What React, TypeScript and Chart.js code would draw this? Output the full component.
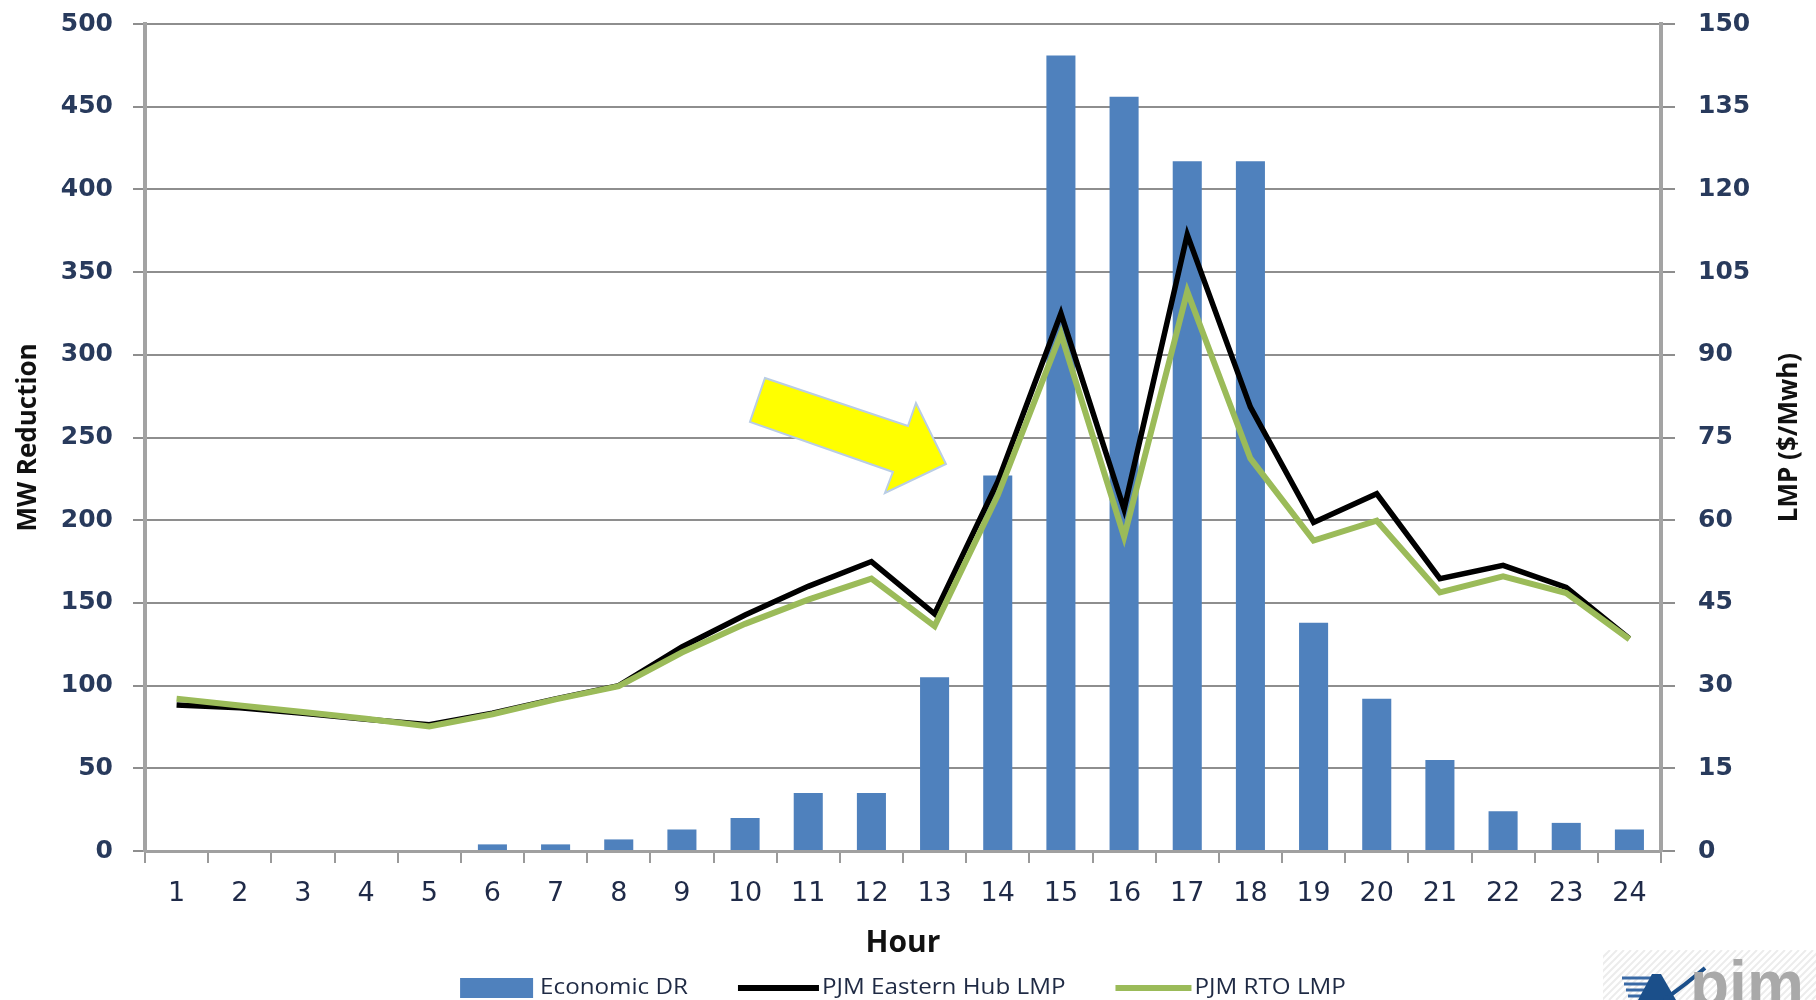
import React, { useEffect, useRef } from 'react';
import { Chart, registerables } from 'chart.js';

Chart.register(...registerables);

// Hour-of-day categories
const HOURS = ['1', '2', '3', '4', '5', '6', '7', '8', '9', '10', '11', '12',
  '13', '14', '15', '16', '17', '18', '19', '20', '21', '22', '23', '24'];

// Economic demand response, MW reduction per hour
const ECONOMIC_DR = [0, 0, 0, 0, 0, 4, 4, 7, 13, 20, 35, 35,
  105, 227, 481, 456, 417, 417, 138, 92, 55, 24, 17, 13];

// Locational marginal prices, $/MWh
const EASTERN_HUB_LMP = [26.5, 26, 25, 23.9, 22.9, 25, 27.6, 30, 37, 42.8, 48, 52.5,
  43, 67, 97.5, 62, 111.8, 80.5, 59.6, 64.8, 49.4, 51.8, 47.8, 38.5];
const RTO_LMP = [27.6, 26.4, 25.2, 24, 22.6, 24.8, 27.5, 29.9, 36, 41.2, 45.6, 49.4,
  40.8, 64.5, 93.8, 57, 101.5, 71.2, 56.3, 59.9, 46.9, 49.8, 46.8, 38.4];

// Axis tick values
const MW_TICKS = [0, 50, 100, 150, 200, 250, 300, 350, 400, 450, 500];
const LMP_TICKS = [0, 15, 30, 45, 60, 75, 90, 105, 120, 135, 150];

// Callout arrow anchor (category index, MW value) pointing at the hour-14 ramp
const ARROW_TIP = { hourIndex: 12.18, mw: 234 };

const FONT_TEXT = "'Open Sans', 'Noto Sans', sans-serif";
const FONT_NUM = "'DejaVu Sans', sans-serif";

// fixed scale box sizes; vertical label overhang is covered by layout padding
const fitWidth = (w: number) => (s: any) => {
  s.width = w;
  s.paddingTop = 0;
  s.paddingBottom = 0;
};

const decorPlugin = {
  id: 'decor',
  afterDatasetsDraw(chart: any) {
    const { ctx, scales } = chart;
    // yellow callout arrow
    const tx = scales.x.getPixelForValue(ARROW_TIP.hourIndex);
    const ty = scales.yMW.getPixelForValue(ARROW_TIP.mw);
    const pts = [
      [-181, -86], [-38, -38], [-30, -61], [0, 0], [-61, 29], [-53, 8], [-196, -42],
    ];
    ctx.save();
    ctx.beginPath();
    pts.forEach(([dx, dy], i) => {
      if (i === 0) ctx.moveTo(tx + dx, ty + dy);
      else ctx.lineTo(tx + dx, ty + dy);
    });
    ctx.closePath();
    ctx.fillStyle = '#ffff00';
    ctx.fill();
    ctx.lineWidth = 2;
    ctx.strokeStyle = '#b9cde5';
    ctx.lineJoin = 'miter';
    ctx.stroke();
    ctx.restore();
  },
  afterDraw(chart: any) {
    const { ctx, chartArea } = chart;
    const cx = (chartArea.left + chartArea.right) / 2;
    ctx.save();

    // axis titles
    ctx.fillStyle = '#111111';
    ctx.textAlign = 'center';
    ctx.textBaseline = 'middle';
    ctx.font = `bold 30px ${FONT_TEXT}`;
    ctx.fillText('Hour', cx, 943);

    ctx.font = `bold 26px ${FONT_TEXT}`;
    const midY = (chartArea.top + chartArea.bottom) / 2;
    ctx.save();
    ctx.translate(29, midY);
    ctx.rotate(-Math.PI / 2);
    ctx.fillText('MW Reduction', 0, 0);
    ctx.restore();
    ctx.save();
    ctx.translate(1790, midY);
    ctx.rotate(-Math.PI / 2);
    ctx.fillText('LMP ($/Mwh)', 0, 0);
    ctx.restore();

    // legend
    const ds = chart.data.datasets;
    const symbols = [
      { w: 73, gap: 7, kind: 'box' },
      { w: 81, gap: 3, kind: 'line' },
      { w: 76, gap: 3, kind: 'line' },
    ];
    const itemGap = 50;
    const stretch = 1.1;
    ctx.font = `22px ${FONT_TEXT}`;
    const textW = ds.map((d: any) => ctx.measureText(d.label).width * stretch);
    let total = 0;
    symbols.forEach((s, i) => { total += s.w + s.gap + textW[i]; });
    total += itemGap * (symbols.length - 1);
    let x = cx - total / 2;
    const ly = 988;
    ds.forEach((d: any, i: number) => {
      const s = symbols[i];
      if (s.kind === 'box') {
        ctx.fillStyle = d.backgroundColor;
        ctx.fillRect(x, ly - 10, s.w, 20);
      } else {
        ctx.strokeStyle = d.borderColor;
        ctx.lineWidth = 6;
        ctx.beginPath();
        ctx.moveTo(x, ly);
        ctx.lineTo(x + s.w, ly);
        ctx.stroke();
      }
      x += s.w + s.gap;
      ctx.fillStyle = '#1f2a44';
      ctx.textAlign = 'left';
      ctx.save();
      ctx.translate(x, ly);
      ctx.scale(stretch, 1);
      ctx.fillText(d.label, 0, 0);
      ctx.restore();
      x += textW[i] + itemGap;
    });

    // corner logo
    ctx.save();
    ctx.beginPath();
    ctx.rect(1603, 950, 213, 50);
    ctx.clip();
    ctx.strokeStyle = '#ececec';
    ctx.lineWidth = 2;
    for (let hx = 1560; hx < 1830; hx += 7) {
      ctx.beginPath();
      ctx.moveTo(hx, 1000);
      ctx.lineTo(hx + 50, 950);
      ctx.stroke();
    }
    ctx.restore();

    ctx.strokeStyle = '#3a6aa6';
    ctx.lineWidth = 3;
    [978, 984, 990, 996].forEach((yy, k) => {
      ctx.beginPath();
      ctx.moveTo(1622 + k * 2, yy);
      ctx.lineTo(1652, yy);
      ctx.stroke();
    });
    ctx.fillStyle = '#1b4f8a';
    ctx.beginPath();
    ctx.moveTo(1638, 1000);
    ctx.lineTo(1652, 974);
    ctx.lineTo(1661, 974);
    ctx.lineTo(1676, 1000);
    ctx.closePath();
    ctx.fill();
    ctx.strokeStyle = '#1b4f8a';
    ctx.lineWidth = 4;
    ctx.beginPath();
    ctx.moveTo(1664, 1000);
    ctx.quadraticCurveTo(1685, 985, 1705, 968);
    ctx.stroke();

    ctx.fillStyle = '#a9a9a9';
    ctx.font = "bold 64px 'Liberation Sans', Arial, sans-serif";
    ctx.textAlign = 'left';
    ctx.textBaseline = 'alphabetic';
    ctx.fillText('pjm', 1690, 1006);

    ctx.restore();
  },
};

export default function App() {
  const canvasRef = useRef<HTMLCanvasElement | null>(null);

  useEffect(() => {
    const canvas = canvasRef.current;
    if (!canvas) return;
    const chart = new Chart(canvas, {
      type: 'bar',
      data: {
        labels: HOURS,
        datasets: [
          {
            type: 'bar',
            label: 'Economic DR',
            data: ECONOMIC_DR,
            yAxisID: 'yMW',
            backgroundColor: '#4f81bd',
            barPercentage: 0.46,
            categoryPercentage: 1,
            order: 3,
          },
          {
            type: 'line',
            label: 'PJM Eastern Hub LMP',
            data: EASTERN_HUB_LMP,
            yAxisID: 'yLMP',
            borderColor: '#000000',
            backgroundColor: '#000000',
            borderWidth: 5.5,
            pointRadius: 0,
            tension: 0,
            borderJoinStyle: 'miter',
            order: 2,
          },
          {
            type: 'line',
            label: 'PJM RTO LMP',
            data: RTO_LMP,
            yAxisID: 'yLMP',
            borderColor: '#9bbb59',
            backgroundColor: '#9bbb59',
            borderWidth: 6,
            pointRadius: 0,
            tension: 0,
            borderJoinStyle: 'miter',
            order: 1,
          },
        ] as any,
      },
      options: {
        responsive: false,
        animation: false,
        events: [],
        layout: { padding: { top: 24, left: 0, right: 0, bottom: 0 } },
        plugins: {
          legend: { display: false },
          tooltip: { enabled: false },
          title: { display: false },
        },
        scales: {
          x: {
            offset: true,
            grid: {
              offset: true,
              drawOnChartArea: false,
              drawTicks: true,
              tickLength: 12,
              color: '#9a9a9a',
              lineWidth: 2,
            },
            border: { display: true, color: '#a0a0a0', width: 3 },
            ticks: {
              color: '#1f2a48',
              font: { family: FONT_NUM, size: 27 },
              padding: 15,
              maxRotation: 0,
              autoSkip: false,
            },
            afterFit: (s: any) => { s.height = 149; },
          },
          yMW: {
            type: 'linear',
            position: 'left',
            min: MW_TICKS[0],
            max: MW_TICKS[MW_TICKS.length - 1],
            ticks: {
              stepSize: MW_TICKS[1] - MW_TICKS[0],
              color: '#283a5c',
              font: { family: FONT_NUM, size: 25, weight: 'bold' },
              padding: 20,
            },
            grid: { color: '#8e8e8e', lineWidth: 2, tickLength: 12, drawTicks: true },
            border: { display: true, color: '#a3a3a3', width: 4 },
            afterFit: fitWidth(145),
          },
          yLMP: {
            type: 'linear',
            position: 'right',
            min: LMP_TICKS[0],
            max: LMP_TICKS[LMP_TICKS.length - 1],
            ticks: {
              stepSize: LMP_TICKS[1] - LMP_TICKS[0],
              color: '#283a5c',
              font: { family: FONT_NUM, size: 25, weight: 'bold' },
              padding: 23,
            },
            grid: { drawOnChartArea: false, color: '#8e8e8e', lineWidth: 2, tickLength: 14, drawTicks: true },
            border: { display: true, color: '#a3a3a3', width: 4 },
            afterFit: fitWidth(155),
          },
        },
      } as any,
      plugins: [decorPlugin],
    });
    return () => chart.destroy();
  }, []);

  return (
    <canvas
      ref={canvasRef}
      width={1816}
      height={1000}
      style={{ position: 'absolute', left: 0, top: 0, display: 'block', background: '#ffffff' }}
    />
  );
}
